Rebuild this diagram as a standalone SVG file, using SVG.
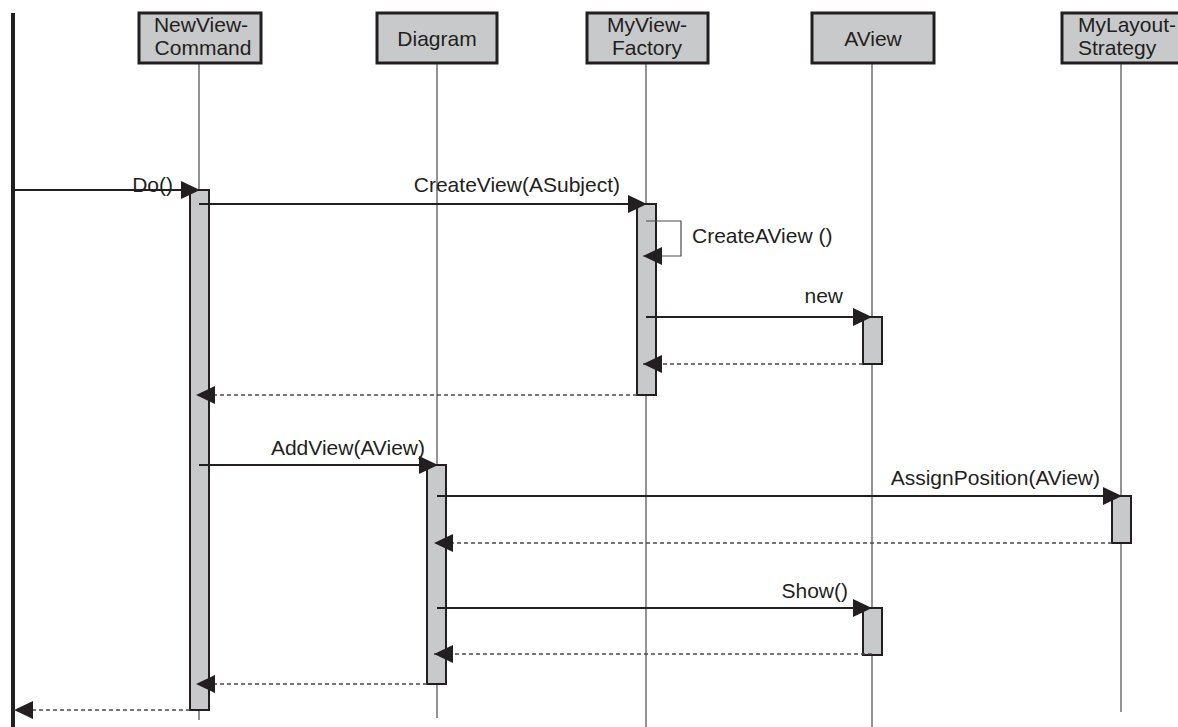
<svg xmlns="http://www.w3.org/2000/svg" width="1178" height="727" viewBox="0 0 1178 727">
  <style>
    text { font-family: "Liberation Sans", Arial, sans-serif; font-size: 21px; fill: #231f20; }
    .head { fill: #c8c9cb; stroke: #231f20; stroke-width: 3; }
    .act { fill: #c8c9cb; stroke: #231f20; stroke-width: 2; }
    .life { stroke: #4a4a4a; stroke-width: 1.2; fill: none; }
    .msg { stroke: #231f20; stroke-width: 2; fill: none; }
    .ret { stroke: #4a4a4a; stroke-width: 1.5; stroke-dasharray: 4 3; fill: none; }
    .self { stroke: #4a4a4a; stroke-width: 1.2; fill: none; }
  </style>
  <defs>
    <marker id="arrow" markerUnits="userSpaceOnUse" markerWidth="20" markerHeight="19" refX="19" refY="9" orient="auto" viewBox="0 0 20 19" overflow="visible">
      <path d="M0,0 L19,9 L0,18 Z" fill="#231f20"/>
    </marker>
  </defs>
  <rect width="1178" height="727" fill="#ffffff"/>

  <!-- caller boundary on the left -->
  <line x1="13" y1="13" x2="13" y2="727" stroke="#231f20" stroke-width="4"/>

  <!-- lifelines -->
  <g id="lifelines">
    <line class="life" x1="199" y1="63" x2="199" y2="720"/>
    <line class="life" x1="437" y1="63" x2="437" y2="718"/>
    <line class="life" x1="646" y1="63" x2="646" y2="727"/>
    <line class="life" x1="872" y1="63" x2="872" y2="727"/>
    <line class="life" x1="1121" y1="63" x2="1121" y2="712"/>
  </g>

  <!-- participants -->
  <g id="newViewCommand">
    <rect class="head" x="139" y="13" width="122" height="50"/>
    <text x="201" y="32" text-anchor="middle">NewView-</text>
    <text x="203" y="55" text-anchor="middle">Command</text>
  </g>
  <g id="diagram">
    <rect class="head" x="377" y="13" width="120" height="50"/>
    <text x="437" y="46" text-anchor="middle">Diagram</text>
  </g>
  <g id="myViewFactory">
    <rect class="head" x="587" y="13" width="121" height="50"/>
    <text x="647" y="32" text-anchor="middle">MyView-</text>
    <text x="647" y="55" text-anchor="middle">Factory</text>
  </g>
  <g id="aView">
    <rect class="head" x="812" y="13" width="122" height="50"/>
    <text x="873" y="46" text-anchor="middle">AView</text>
  </g>
  <g id="myLayoutStrategy">
    <rect class="head" x="1062" y="13" width="130" height="50"/>
    <text x="1078" y="32">MyLayout-</text>
    <text x="1078" y="55">Strategy</text>
  </g>

  <!-- activation bars -->
  <g id="activations">
    <rect class="act" x="190" y="190" width="19" height="520"/>
    <rect class="act" x="637" y="204" width="19" height="191"/>
    <rect class="act" x="863" y="317" width="19" height="47"/>
    <rect class="act" x="427" y="465" width="19" height="219"/>
    <rect class="act" x="1112" y="496" width="19" height="47"/>
    <rect class="act" x="863" y="608" width="19" height="47"/>
  </g>

  <!-- messages -->
  <g id="connectors">
    <line class="msg" x1="13" y1="190" x2="200" y2="190" marker-end="url(#arrow)"/>
    <line class="msg" x1="199" y1="204" x2="647" y2="204" marker-end="url(#arrow)"/>
    <polyline class="self" points="646,221 681,221 681,256 643,256" marker-end="url(#arrow)"/>
    <line class="msg" x1="646" y1="317" x2="872" y2="317" marker-end="url(#arrow)"/>
    <line class="ret" x1="863" y1="364" x2="643" y2="364" marker-end="url(#arrow)"/>
    <line class="ret" x1="637" y1="395" x2="196" y2="395" marker-end="url(#arrow)"/>
    <line class="msg" x1="199" y1="465" x2="438" y2="465" marker-end="url(#arrow)"/>
    <line class="msg" x1="437" y1="496" x2="1122" y2="496" marker-end="url(#arrow)"/>
    <line class="ret" x1="1112" y1="543" x2="434" y2="543" marker-end="url(#arrow)"/>
    <line class="msg" x1="437" y1="608" x2="872" y2="608" marker-end="url(#arrow)"/>
    <line class="ret" x1="872" y1="654" x2="434" y2="654" marker-end="url(#arrow)"/>
    <line class="ret" x1="427" y1="684" x2="196" y2="684" marker-end="url(#arrow)"/>
    <line class="ret" x1="190" y1="710" x2="14" y2="710" marker-end="url(#arrow)"/>
  </g>

  <!-- message labels -->
  <g id="labels">
    <text x="173" y="192" text-anchor="end">Do()</text>
    <text x="620" y="192" text-anchor="end">CreateView(ASubject)</text>
    <text x="692" y="243">CreateAView ()</text>
    <text x="843" y="303" text-anchor="end">new</text>
    <text x="425" y="455" text-anchor="end">AddView(AView)</text>
    <text x="1100" y="485" text-anchor="end">AssignPosition(AView)</text>
    <text x="848" y="598" text-anchor="end">Show()</text>
  </g>
</svg>
